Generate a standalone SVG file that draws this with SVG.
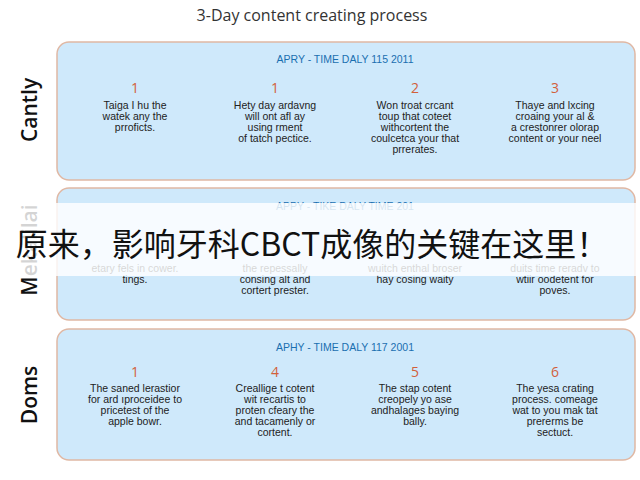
<svg xmlns="http://www.w3.org/2000/svg" width="640" height="480" viewBox="0 0 640 480">
<style>
.panel{fill:#cfe9fb;stroke:#e0b8a4;stroke-width:1.5}
.hd{font-family:"Liberation Sans",sans-serif;font-size:10.5px;fill:#1a6fb0;text-anchor:middle}
.num{font-family:"Open Sans",sans-serif;font-size:14px;fill:#d2603a;text-anchor:middle}
.t{font-family:"Liberation Sans",sans-serif;font-size:10.5px;fill:#222;text-anchor:middle}
.side{font-family:"Open Sans",sans-serif;font-size:21px;font-weight:600;fill:#111;text-anchor:middle}
</style>
<rect width="640" height="480" fill="#fff"/>
<text x="312" y="21" font-family="Open Sans,sans-serif" font-size="16" fill="#333" text-anchor="middle">3-Day content creating process</text>
<g id="panel1">
<rect class="panel" x="57" y="42" width="578" height="138" rx="12"/>
<text class="hd" x="345" y="63">APRY - TIME DALY 115 2011</text>
<text class="num" x="135" y="93">1</text><text class="num" x="275" y="93">1</text><text class="num" x="415" y="93">2</text><text class="num" x="555" y="93">3</text>
<text class="t" x="135" y="109">Taiga I hu the<tspan x="135" dy="11">watek any the</tspan><tspan x="135" dy="11">prroficts.</tspan></text>
<text class="t" x="275" y="109">Hety day ardavng<tspan x="275" dy="11">will ont afl ay</tspan><tspan x="275" dy="11">using rment</tspan><tspan x="275" dy="11">of tatch pectice.</tspan></text>
<text class="t" x="415" y="109">Won troat crcant<tspan x="415" dy="11">toup that coteet</tspan><tspan x="415" dy="11">withcortent the</tspan><tspan x="415" dy="11">coulcetca your that</tspan><tspan x="415" dy="11">prrerates.</tspan></text>
<text class="t" x="555" y="109">Thaye and lxcing<tspan x="555" dy="11">croaing your al &amp;</tspan><tspan x="555" dy="11">a crestonrer olorap</tspan><tspan x="555" dy="11">content or your neel</tspan></text>
<text class="side" transform="translate(37,110) rotate(-90)">Cantly</text>
</g>
<g id="panel2">
<rect class="panel" x="57" y="188" width="578" height="132" rx="12"/>
<text class="hd" x="345" y="210">APPY - TIKE DALY TIME 201</text>
<text class="t" x="135" y="272">etary fels in cower.<tspan x="135" dy="11">tings.</tspan></text>
<text class="t" x="275" y="272">the repessally<tspan x="275" dy="11">consing alt and</tspan><tspan x="275" dy="11">cortert prester.</tspan></text>
<text class="t" x="415" y="272">wuitch enthal broser<tspan x="415" dy="11">hay cosing waity</tspan></text>
<text class="t" x="555" y="272">duits time reradv to<tspan x="555" dy="11">wtiir oodetent for</tspan><tspan x="555" dy="11">poves.</tspan></text>
<text class="side" transform="translate(37,250) rotate(-90)">Mekalilai</text>
</g>
<g id="panel3">
<rect class="panel" x="57" y="329" width="578" height="131" rx="12"/>
<text class="hd" x="345" y="351">APHY - TIME DALY 117 2001</text>
<text class="num" x="135" y="377">1</text><text class="num" x="275" y="377">4</text><text class="num" x="415" y="377">5</text><text class="num" x="555" y="377">6</text>
<text class="t" x="135" y="392">The saned lerastior<tspan x="135" dy="11">for ard ıproceidee to</tspan><tspan x="135" dy="11">pricetest of the</tspan><tspan x="135" dy="11">apple bowr.</tspan></text>
<text class="t" x="275" y="392">Creallige t cotent<tspan x="275" dy="11">wit recartis to</tspan><tspan x="275" dy="11">proten cfeary the</tspan><tspan x="275" dy="11">and tacamenly or</tspan><tspan x="275" dy="11">cortent.</tspan></text>
<text class="t" x="415" y="392">The stap cotent<tspan x="415" dy="11">creopely yo ase</tspan><tspan x="415" dy="11">andhalages baying</tspan><tspan x="415" dy="11">bally.</tspan></text>
<text class="t" x="555" y="392">The yesa crating<tspan x="555" dy="11">process. comeage</tspan><tspan x="555" dy="11">wat to you mak tat</tspan><tspan x="555" dy="11">prererms be</tspan><tspan x="555" dy="11">sectuct.</tspan></text>
<text class="side" transform="translate(37,395) rotate(-90)">Doms</text>
</g>
<g id="banner">
<rect x="0" y="203" width="640" height="73" fill="#fff" fill-opacity="0.82"/>
<text x="312" y="256" font-family="Noto Sans CJK SC,sans-serif" font-size="32" fill="#111" text-anchor="middle">原来，影响牙科CBCT成像的关键在这里！</text>
</g>
</svg>
